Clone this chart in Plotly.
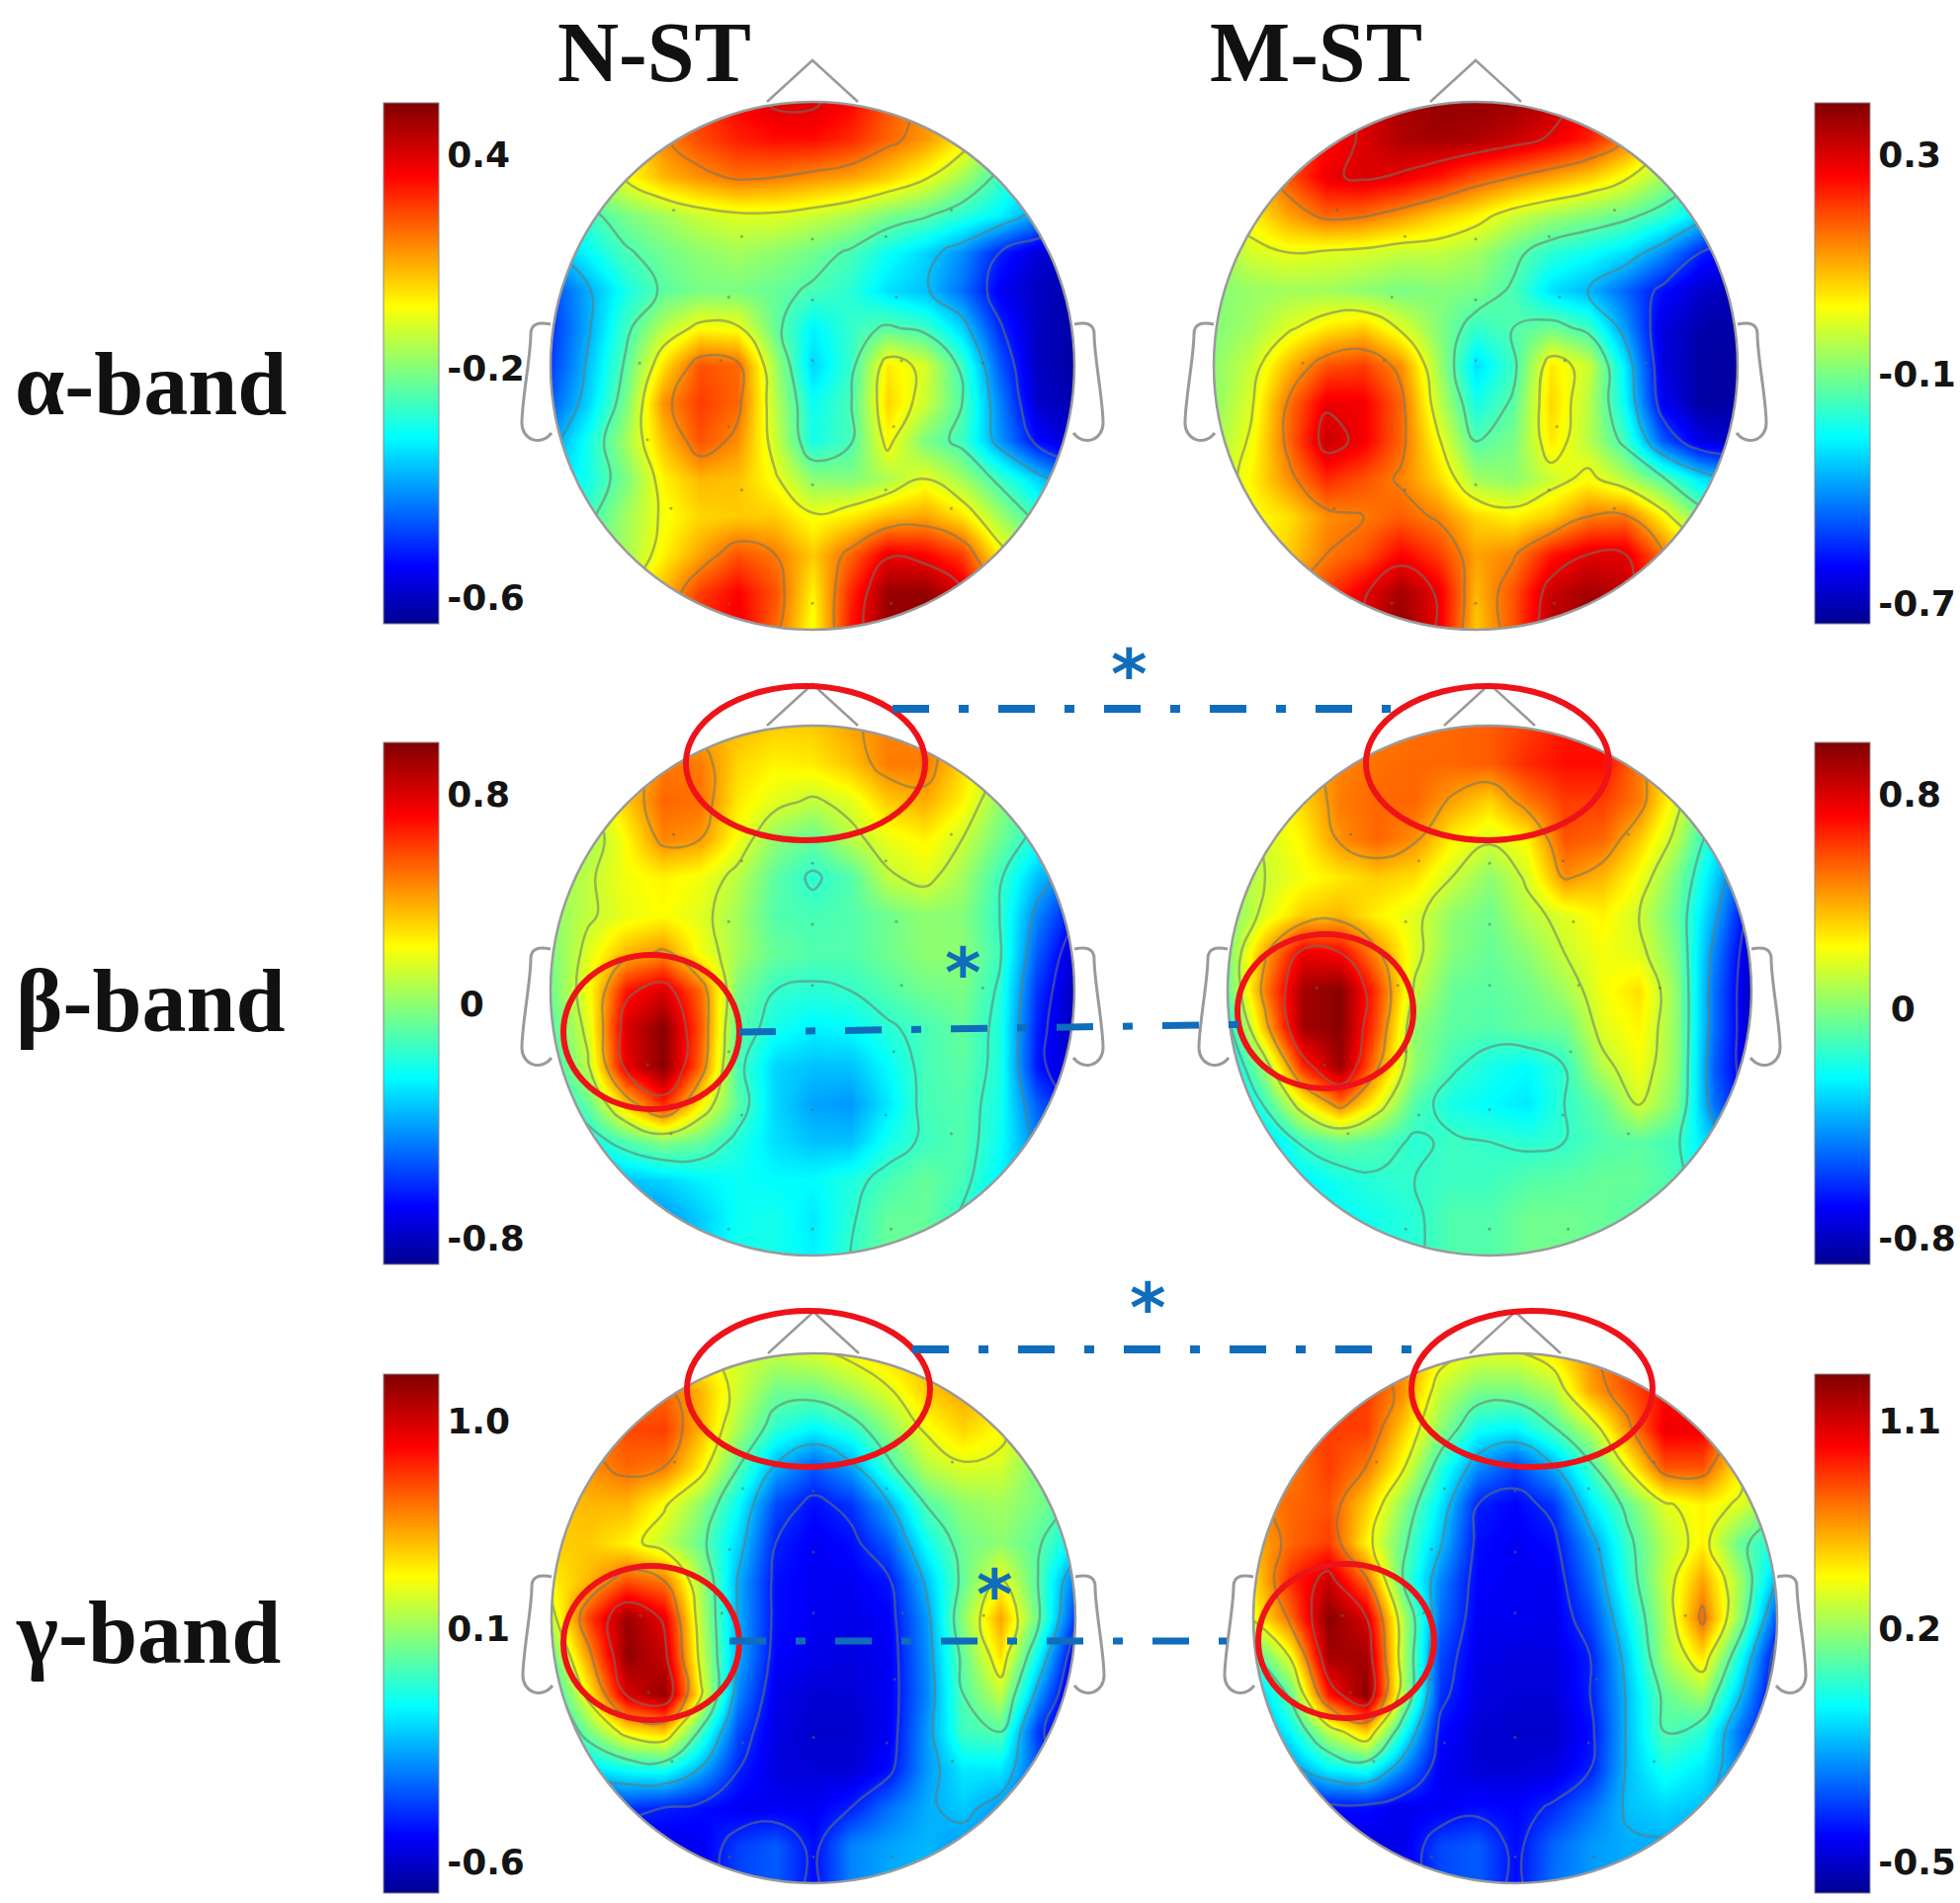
"""EEG topographic maps, N-ST and M-ST, alpha / beta / gamma bands."""

import plotly.graph_objects as go

# map values as percent of each map's colour bar, rows run front of head to back
alpha_nst = [
    [60,62,66,72,80,86,90,90,86,78,72,66,60,55,50],
    [55,58,62,73,79,83,85,85,82,76,71,63,52,46,42],
    [48,52,60,68,72,75,74,72,70,66,60,52,42,36,32],
    [38,42,48,52,56,58,58,56,53,48,45,40,35,26,20],
    [28,36,43,47,50,52,50,47,43,37,32,25,14,7,4],
    [18,28,38,45,48,48,46,43,40,33,30,22,10,5,3],
    [16,28,42,54,61,60,46,35,41,45,42,32,15,5,2],
    [17,30,45,64,78,76,52,32,41,63,57,42,20,5,2],
    [20,32,48,72,80,76,54,37,43,65,56,44,24,6,3],
    [26,38,52,67,78,72,56,38,43,61,48,42,26,12,5],
    [32,38,48,62,68,67,60,50,49,53,59,52,42,32,22],
    [38,42,52,60,65,66,66,60,63,68,70,64,52,42,35],
    [42,46,52,62,70,78,74,66,76,88,86,80,62,52,45],
    [46,50,58,68,80,86,78,62,82,97,98,90,70,58,50],
    [48,52,60,70,82,88,76,60,84,98,98,90,72,60,52],
]
alpha_mst = [
    [70,75,80,85,90,95,98,98,97,93,86,78,66,55,50],
    [68,72,78,85,90,95,96,95,92,88,83,74,60,50,44],
    [62,68,78,88,90,88,84,78,74,70,66,60,52,44,38],
    [58,62,70,76,75,71,66,62,56,52,49,46,41,33,26],
    [50,57,59,58,57,55,55,52,46,40,37,33,25,14,9],
    [49,51,52,52,50,48,49,48,43,33,29,21,12,6,4],
    [49,52,58,63,66,58,49,41,44,47,42,26,8,3,2],
    [50,56,68,78,80,72,52,33,42,63,56,34,8,2,2],
    [50,58,75,88,87,76,55,38,45,65,54,36,10,2,2],
    [52,60,76,92,87,76,60,44,48,63,54,42,20,8,5],
    [54,62,72,82,78,73,65,52,50,56,61,54,45,34,28],
    [55,60,64,72,74,77,73,65,62,66,74,75,62,48,42],
    [55,60,66,74,78,86,80,70,73,84,89,89,75,60,50],
    [60,66,72,80,88,96,88,68,78,92,96,93,78,62,52],
    [62,68,74,82,90,98,88,66,78,94,98,94,80,64,54],
]
beta_nst = [
    [55,58,62,66,68,68,66,66,70,73,72,68,60,55,50],
    [50,55,64,74,74,65,62,63,67,74,74,65,56,50,46],
    [50,54,66,76,75,63,58,55,58,66,69,62,50,44,40],
    [48,52,61,73,71,60,50,46,54,59,62,56,47,38,32],
    [50,55,60,62,60,54,45,40,44,55,58,52,42,30,22],
    [50,55,59,61,58,52,44,43,44,47,50,49,41,24,12],
    [48,58,68,72,60,52,46,44,44,47,50,50,42,20,6],
    [47,60,84,90,76,48,41,40,41,44,47,48,40,16,4],
    [44,58,90,99,78,45,38,35,36,40,43,46,39,14,3],
    [40,55,88,99,76,43,32,30,30,36,43,45,39,13,5],
    [36,46,66,82,62,45,32,27,26,34,43,44,38,20,10],
    [30,37,44,49,46,39,33,30,30,38,42,44,37,24,16],
    [22,26,30,32,35,37,36,36,39,43,46,43,35,26,20],
    [18,20,24,26,31,37,38,34,40,46,46,40,34,28,22],
    [16,18,22,25,32,38,38,35,41,46,46,40,34,28,22],
]
beta_mst = [
    [60,64,68,72,74,75,76,77,80,84,84,78,66,55,48],
    [56,62,68,73,75,76,76,77,82,85,85,74,60,48,40],
    [52,58,65,74,76,76,70,65,74,80,80,74,58,44,32],
    [50,57,62,72,76,72,62,57,62,78,76,66,54,36,22],
    [50,56,60,63,66,64,56,50,57,72,68,60,48,32,14],
    [48,58,66,68,62,58,50,47,54,58,62,56,46,28,8],
    [48,70,88,86,72,58,49,46,50,56,60,58,48,24,5],
    [46,74,96,99,80,55,46,45,47,52,60,64,50,22,4],
    [38,68,96,99,78,50,45,44,46,47,58,62,50,22,4],
    [32,52,82,97,72,50,42,38,36,41,54,60,50,20,5],
    [28,42,60,74,60,44,38,36,34,41,46,57,48,22,8],
    [26,32,42,46,44,40,42,41,40,41,44,45,42,30,18],
    [26,30,35,38,40,41,42,42,44,45,46,46,43,34,26],
    [26,30,34,36,38,40,44,44,47,47,46,44,42,34,28],
    [26,30,34,36,38,40,44,44,47,47,46,44,42,36,30],
]
gamma_nst = [
    [62,62,62,62,60,57,55,57,61,65,68,66,58,52,48],
    [64,68,72,76,68,56,47,47,52,58,66,70,64,55,50],
    [68,72,79,80,68,52,40,35,40,50,60,65,61,52,46],
    [70,72,76,74,62,44,28,20,27,42,54,58,57,48,42],
    [66,68,68,60,50,36,18,12,16,28,44,50,52,48,42],
    [66,66,62,55,46,32,14,10,12,20,37,47,50,45,35],
    [62,68,78,74,52,28,12,10,10,13,30,46,60,44,22],
    [56,80,97,88,54,28,12,10,9,11,26,50,70,46,16],
    [46,72,98,92,56,28,11,9,8,10,25,46,64,36,8],
    [38,62,90,98,60,24,9,7,7,10,24,44,55,26,4],
    [32,48,62,66,42,18,8,6,6,10,26,42,44,16,4],
    [24,33,37,38,28,14,8,7,7,12,26,34,34,20,8],
    [12,14,16,14,12,10,10,10,14,22,28,31,26,18,10],
    [6,8,8,8,10,17,20,12,24,27,29,26,22,16,10],
    [6,6,8,8,10,18,20,12,24,28,29,26,22,16,10],
]
gamma_mst = [
    [74,74,74,74,72,62,58,58,63,72,80,80,72,62,56],
    [76,78,80,80,72,55,48,48,53,70,78,85,84,70,60],
    [76,78,80,80,66,50,37,35,43,54,72,88,87,68,56],
    [70,74,80,74,60,40,25,18,28,42,60,78,78,62,50],
    [72,76,78,66,50,34,14,11,16,34,46,58,62,58,48],
    [68,76,80,62,46,30,12,10,12,26,42,54,62,46,38],
    [64,82,92,76,44,24,11,10,10,22,40,55,70,52,28],
    [60,76,99,90,54,22,10,10,9,18,36,53,76,50,18],
    [42,60,96,96,54,18,9,8,8,14,32,52,64,38,10],
    [28,46,84,99,54,16,8,7,7,14,30,46,52,30,8],
    [24,36,54,66,38,12,7,6,6,12,30,44,40,22,8],
    [16,26,35,38,24,10,7,7,8,14,30,38,34,24,12],
    [8,10,12,12,9,10,12,11,15,22,30,32,30,22,12],
    [6,6,8,8,9,18,20,12,21,26,28,28,24,18,10],
    [5,6,8,8,9,18,20,12,22,26,28,28,24,18,10],
]

# colour bar labels and where they sit on each bar (percent)
tick_labels = [
    ["0.4", "-0.2", "-0.6"], ["0.3", "-0.1", "-0.7"],
    ["0.8", "\u00a00", "-0.8"], ["0.8", "\u00a00", "-0.8"],
    ["1.0", "0.1", "-0.6"], ["1.1", "0.2", "-0.5"],
]
tick_levels = [
    [90, 49, 5], [90, 48, 4],
    [90, 50, 5], [90, 49, 5],
    [91, 51, 6], [91, 51, 6],
]
# lowest contour level of each map, the others follow every 15
contour_starts = [14, 14, 11, 11, 14, 14]

# electrode positions as a fraction of the head radius
sensor_x = [-.53,.53,-.27,0,.28,-.32,0,.32,-.66,-.35,0,.34,.65,-.63,-.32,.31,0,-.27,.28,-.54,.53,0,-.32,.3]
sensor_y = [-.59,-.59,-.49,-.48,-.49,-.26,-.25,-.26,-.01,-.02,-.02,-.02,-.01,.28,.23,.23,.45,.47,.47,.54,.54,.9,.9,.9]

maps = [alpha_nst, alpha_mst, beta_nst, beta_mst, gamma_nst, gamma_mst]
# head centre x, centre y, radius x, radius y, colour bar x, bar top, bar length
panels = [
    (822, 370, 265, 267, 388, 104, 527),
    (1493, 370, 265, 267, 1836, 104, 527),
    (822, 1002, 265, 268, 388, 751, 528),
    (1507, 1002, 265, 268, 1836, 751, 528),
    (823, 1637, 265, 268, 388, 1390, 525),
    (1533, 1637, 265, 268, 1836, 1390, 525),
]

JET = [
    [0, "#00008f"], [0.11, "#0000ff"], [0.36, "#00ffff"],
    [0.61, "#ffff00"], [0.86, "#ff0000"], [1, "#800000"],
]
GREY = "#9a9a9a"
BLUE = "#0f6dbb"
RED = "#ee1219"
W, H = 1983, 1925
K = 0.5523

fig = go.Figure()
shapes = []


def head_shapes(cx, cy, rx, ry):
    """White mask with an oval hole, then the head outline, nose and ears."""
    pad = 24
    kx, ky = rx * K, ry * K
    oval = (
        f"M {cx-rx} {cy} C {cx-rx} {cy-ky} {cx-kx} {cy-ry} {cx} {cy-ry} "
        f"C {cx+kx} {cy-ry} {cx+rx} {cy-ky} {cx+rx} {cy} "
        f"C {cx+rx} {cy+ky} {cx+kx} {cy+ry} {cx} {cy+ry} "
        f"C {cx-kx} {cy+ry} {cx-rx} {cy+ky} {cx-rx} {cy} Z"
    )
    box = (
        f"M {cx-rx-pad} {cy-ry-pad} L {cx+rx+pad} {cy-ry-pad} "
        f"L {cx+rx+pad} {cy+ry+pad} L {cx-rx-pad} {cy+ry+pad} Z "
    )
    out = [
        dict(type="path", path=box + oval, fillcolor="white", fillrule="evenodd",
             line=dict(width=0), layer="above"),
        dict(type="path", path=oval, line=dict(color=GREY, width=2.5), layer="above"),
        dict(type="path", line=dict(color=GREY, width=2.5), layer="above",
             path=f"M {cx-46} {cy-ry} L {cx} {cy-ry-42} L {cx+46} {cy-ry}"),
    ]
    for side in (-1, 1):
        ex = cx + side * rx
        s = side
        out.append(dict(
            type="path", line=dict(color=GREY, width=3), layer="above",
            path=(f"M {ex} {cy-42} C {ex+s*10} {cy-44} {ex+s*20} {cy-44} {ex+s*20} {cy-32} "
                  f"C {ex+s*20} {cy-10} {ex+s*29} {cy+35} {ex+s*29} {cy+58} "
                  f"C {ex+s*29} {cy+75} {ex+s*10} {cy+82} {ex-s} {cy+68}"),
        ))
    return out


for z, ticks, labels, start, (cx, cy, rx, ry, bar_x, bar_top, bar_len) in zip(
        maps, tick_levels, tick_labels, contour_starts, panels):
    xs = [cx - rx + i * 2 * rx / 14 for i in range(15)]
    ys = [cy - ry + j * 2 * ry / 14 for j in range(15)]
    fig.add_trace(go.Heatmap(
        x=xs, y=ys, z=z, zmin=0, zmax=100, zsmooth="best",
        colorscale=JET, hoverinfo="skip",
        colorbar=dict(
            x=bar_x / W, xanchor="left", y=1 - bar_top / H, yanchor="top",
            lenmode="pixels", len=bar_len, thicknessmode="pixels", thickness=56,
            xpad=0, ypad=0, outlinecolor="#8a8a8a", outlinewidth=1,
            tickmode="array", tickvals=ticks, ticktext=labels, ticks="",
            tickfont=dict(family="DejaVu Sans", size=36, color="#141414", weight="bold"),
        ),
    ))
    fig.add_trace(go.Contour(
        x=xs, y=ys, z=z, showscale=False, hoverinfo="skip",
        contours=dict(coloring="none", start=start, end=start + 75, size=15),
        line=dict(color="rgba(105,120,105,0.55)", width=2.5, smoothing=1.3),
    ))
    fig.add_trace(go.Scatter(
        x=[cx + v * rx for v in sensor_x], y=[cy + v * ry for v in sensor_y],
        mode="markers", hoverinfo="skip",
        marker=dict(size=3, color="rgba(90,110,90,0.55)"),
    ))
    shapes += head_shapes(cx, cy, rx, ry)

# red rings, centre x, centre y, radius x, radius y
rings = [
    (815, 772, 121, 78), (659, 1044, 89, 78), (1505, 772, 123, 78), (1341, 1023, 89, 78),
    (818, 1405, 123, 79), (659, 1662, 89, 78), (1550, 1405, 122, 79), (1362, 1660, 89, 78),
]
for x, y, a, b in rings:
    shapes.append(dict(type="circle", x0=x - a, x1=x + a, y0=y - b, y1=y + b,
                       line=dict(color=RED, width=6), layer="above"))

# dash-dot links between the two columns
links = [
    (903, 717, 1407, 717, 8), (748, 1044, 1280, 1036, 7),
    (923, 1365, 1432, 1365, 8), (738, 1660, 1241, 1660, 7),
]
for x0, y0, x1, y1, width in links:
    shapes.append(dict(type="line", x0=x0, y0=y0, x1=x1, y1=y1, layer="above",
                       line=dict(color=BLUE, width=width, dash="37px,30px,10px,30px")))

fig.update_layout(
    width=W, height=H, showlegend=False,
    paper_bgcolor="white", plot_bgcolor="white",
    margin=dict(l=0, r=0, t=0, b=0, autoexpand=False),
    xaxis=dict(range=[0, W], visible=False, domain=[0, 1]),
    yaxis=dict(range=[H, 0], visible=False, domain=[0, 1]),
    shapes=shapes,
)

SERIF = "Liberation Serif"
for text, x, y, size in [
    ("N-ST", 662, 53, 86), ("M-ST", 1331, 53, 86),
    ("α-band", 152, 388, 90), ("β-band", 152, 1012, 90), ("γ-band", 150, 1651, 90),
]:
    fig.add_annotation(text=text, x=x, y=y, xref="x", yref="y", showarrow=False,
                       font=dict(family=SERIF, size=size, color="#111111", weight="bold"))

for x, y in [(1142, 682), (974, 984), (1161, 1323), (1006, 1613)]:
    fig.add_annotation(text="*", x=x, y=y, xref="x", yref="y", showarrow=False,
                       font=dict(family="DejaVu Sans", size=70, color=BLUE, weight="bold"))

# the page's default body margin would push the figure off its pixel grid
fig.write_html("out.html", post_script="document.body.style.margin='0';",
               config=dict(displayModeBar=False))
